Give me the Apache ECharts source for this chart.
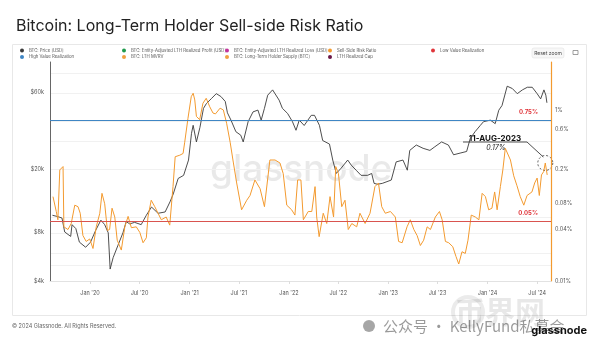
<!DOCTYPE html>
<html><head><meta charset="utf-8">
<script src="https://cdn.jsdelivr.net/npm/echarts@6/dist/echarts.min.js"></script>
<style>html,body{margin:0;padding:0;background:#fff;}#c{width:600px;height:346px;}</style>
</head><body><div id="c"></div>
<script>
const priceDates = ['2019-08-16','2019-09-05','2019-09-20','2019-09-30','2019-10-22','2019-10-27','2019-11-10','2019-11-23','2019-12-16','2020-01-03','2020-01-22','2020-02-10','2020-02-24','2020-03-08','2020-03-15','2020-03-26','2020-04-13','2020-05-01','2020-05-13','2020-05-26','2020-06-13','2020-07-07','2020-07-26','2020-08-14','2020-09-07','2020-10-03','2020-10-21','2020-11-02','2020-11-20','2020-12-10','2020-12-28','2021-01-08','2021-01-14','2021-01-26','2021-02-08','2021-02-21','2021-03-04','2021-03-22','2021-04-09','2021-04-26','2021-05-12','2021-05-20','2021-06-02','2021-06-20','2021-07-08','2021-07-17','2021-08-04','2021-08-22','2021-09-09','2021-09-21','2021-10-03','2021-10-15','2021-11-02','2021-11-08','2021-11-26','2021-12-08','2021-12-27','2022-01-14','2022-01-27','2022-02-08','2022-02-26','2022-03-24','2022-04-05','2022-04-23','2022-05-05','2022-05-30','2022-06-11','2022-06-24','2022-07-12','2022-08-05','2022-08-18','2022-09-05','2022-09-23','2022-10-17','2022-11-01','2022-11-10','2022-11-22','2022-12-10','2023-01-12','2023-01-30','2023-02-24','2023-03-12','2023-03-21','2023-04-14','2023-05-09','2023-06-03','2023-06-21','2023-07-16','2023-08-10','2023-08-29','2023-09-22','2023-10-16','2023-10-29','2023-11-16','2023-12-05','2023-12-17','2024-01-11','2024-01-29','2024-02-11','2024-02-23','2024-03-13','2024-04-01','2024-04-19','2024-05-08','2024-05-26','2024-06-13','2024-07-01','2024-07-14','2024-07-26','2024-08-02','2024-08-06'];
const priceValues = [10300,10100,9900,8100,7600,9000,8500,7000,6500,7000,8300,9600,9000,8000,4750,5600,6700,8000,9400,9100,9300,9000,10300,11600,10600,10800,12500,14000,17500,18300,22800,33500,37600,29600,36500,48000,51500,55200,59300,56900,53000,45000,40500,34300,32600,29600,39600,45600,46800,40500,48000,58000,62600,63300,54000,48000,44600,39600,35000,40500,37500,43400,43400,37600,30200,28700,22800,18800,20300,22800,21200,19700,18300,18300,18800,16300,16100,16300,17100,22200,22800,19700,26200,28300,27000,26200,27600,29600,28300,24600,25200,25800,31000,34300,37500,39600,40500,38500,46700,50000,66000,63800,59300,62600,65000,65000,59300,55000,62600,58000,52000];

const ratioDates = ['2019-08-18','2019-08-30','2019-09-05','2019-09-12','2019-09-24','2019-09-27','2019-10-12','2019-10-24','2019-11-06','2019-11-18','2019-11-26','2019-12-06','2019-12-18','2019-12-31','2020-01-12','2020-01-24','2020-02-06','2020-02-14','2020-02-24','2020-03-05','2020-03-13','2020-03-22','2020-04-01','2020-04-10','2020-04-25','2020-05-08','2020-05-20','2020-06-01','2020-06-19','2020-07-02','2020-07-14','2020-07-26','2020-08-01','2020-08-13','2020-08-26','2020-09-07','2020-09-19','2020-10-07','2020-10-20','2020-11-01','2020-11-09','2020-11-26','2020-12-08','2020-12-14','2020-12-26','2021-01-07','2021-01-14','2021-01-20','2021-01-26','2021-02-07','2021-02-19','2021-03-03','2021-03-16','2021-03-28','2021-04-06','2021-04-23','2021-05-05','2021-05-17','2021-05-30','2021-06-11','2021-06-23','2021-07-11','2021-07-30','2021-08-11','2021-08-29','2021-09-17','2021-10-03','2021-10-23','2021-11-11','2021-11-29','2021-12-11','2021-12-24','2022-01-11','2022-01-23','2022-02-02','2022-02-14','2022-02-23','2022-03-13','2022-03-26','2022-04-07','2022-04-13','2022-04-22','2022-05-07','2022-05-20','2022-06-01','2022-06-14','2022-06-22','2022-07-02','2022-07-14','2022-07-26','2022-08-07','2022-08-20','2022-09-07','2022-09-19','2022-10-08','2022-10-26','2022-11-13','2022-11-26','2022-12-08','2022-12-21','2023-01-09','2023-01-27','2023-02-08','2023-02-21','2023-03-11','2023-03-23','2023-04-05','2023-04-17','2023-04-29','2023-05-11','2023-05-24','2023-06-05','2023-06-23','2023-07-08','2023-07-18','2023-07-30','2023-08-11','2023-08-26','2023-09-07','2023-09-17','2023-09-29','2023-10-11','2023-10-21','2023-11-02','2023-11-17','2023-11-30','2023-12-12','2023-12-24','2024-01-05','2024-01-17','2024-01-27','2024-02-05','2024-02-17','2024-02-26','2024-03-06','2024-03-12','2024-03-25','2024-04-06','2024-04-18','2024-04-30','2024-05-13','2024-05-25','2024-06-12','2024-06-22','2024-07-01','2024-07-09','2024-07-17','2024-07-25','2024-07-31','2024-08-07'];
const ratioValues = [0.097,0.065,0.052,0.199,0.218,0.043,0.040,0.047,0.077,0.074,0.062,0.034,0.029,0.031,0.024,0.043,0.062,0.106,0.080,0.039,0.040,0.071,0.056,0.030,0.023,0.043,0.057,0.042,0.043,0.037,0.028,0.032,0.056,0.088,0.074,0.062,0.052,0.056,0.045,0.127,0.284,0.296,0.31,0.42,0.80,1.43,1.57,1.31,0.84,0.77,1.2,1.37,1.09,0.92,0.9,1.05,1.0,0.70,0.42,0.24,0.14,0.068,0.088,0.10,0.152,0.12,0.074,0.26,0.26,0.24,0.18,0.077,0.068,0.059,0.152,0.152,0.052,0.065,0.065,0.127,0.056,0.033,0.062,0.047,0.097,0.056,0.218,0.18,0.074,0.088,0.040,0.047,0.043,0.062,0.047,0.062,0.127,0.14,0.074,0.062,0.065,0.056,0.029,0.028,0.043,0.052,0.040,0.034,0.026,0.030,0.043,0.040,0.056,0.065,0.052,0.029,0.028,0.0252,0.0193,0.0158,0.022,0.021,0.030,0.059,0.056,0.052,0.106,0.097,0.068,0.071,0.11,0.068,0.127,0.199,0.356,0.36,0.26,0.17,0.13,0.097,0.077,0.10,0.11,0.14,0.16,0.10,0.174,0.19,0.24,0.174];

const priceTickLabels = [4000, 8000, 20000, 60000];
const priceGridValues = [4000, 5000, 6000, 8000, 10000, 20000, 30000, 40000, 60000, 80000];
const ratioTickLabels = [0.01, 0.04, 0.08, 0.2, 0.6, 1];
const xTickDates = ['2020-01-01','2020-07-01','2021-01-01','2021-07-01','2022-01-01','2022-07-01','2023-01-01','2023-07-01','2024-01-01','2024-07-01'];
const xRange = ['2019-08-07', '2024-08-21'];
const highValueLevel = 0.75;
const lowValueLevel = 0.05;
const annotationDate = '2024-07-31';
const annotationTitle = '11-AUG-2023';
const annotationValue = '0.17%';

const ORANGE = '#f39a2f';
const FONT = 'Inter, Roboto, sans-serif';
const chart = echarts.init(document.getElementById('c'));

const ts = d => Date.parse(d + 'T00:00:00Z');
function zip(d, v) { return d.map((x, i) => [ts(x), v[i]]); }
const legendText = { fontSize: 4.3, color: '#555', fontFamily: FONT, lineHeight: 5 };
function legendCol(left, names) {
  return { left: left, top: 48, orient: 'vertical', itemWidth: 4, itemHeight: 4, itemGap: 1.5,
    icon: 'circle', padding: 0, textStyle: legendText, data: names, selectedMode: false };
}
const MONTHS = ['Jan','Feb','Mar','Apr','May','Jun','Jul','Aug','Sep','Oct','Nov','Dec'];

chart.setOption({
  animation: false,
  textStyle: { fontFamily: FONT },
  title: { text: 'Bitcoin: Long-Term Holder Sell-side Risk Ratio', left: 11, top: 13,
    textStyle: { fontSize: 16, fontWeight: 'normal', color: '#222', fontFamily: FONT } },
  legend: [
    legendCol(20, ['BTC: Price [USD]', 'High Value Realization']),
    legendCol(122, ['BTC: Entity-Adjusted LTH Realized Profit [USD]', 'BTC: LTH MVRV']),
    legendCol(225, ['BTC: Entity-Adjusted LTH Realized Loss [USD]', 'BTC: Long-Term Holder Supply [BTC]']),
    legendCol(328, ['Sell-Side Risk Ratio', 'LTH Realized Cap']),
    legendCol(431, ['Low Value Realization'])
  ],
  grid: { left: 50, right: 49, top: 62, bottom: 65 },
  xAxis: {
    type: 'value', min: ts(xRange[0]), max: ts(xRange[1]),
    axisLine: { lineStyle: { color: '#e2e2e2' } },
    axisTick: { show: true, length: 3, customValues: xTickDates.map(ts), lineStyle: { color: '#ddd' } },
    splitLine: { show: false },
    axisLabel: { customValues: xTickDates.map(ts), fontSize: 5.5, color: '#555', margin: 9,
      formatter: function (v) { const d = new Date(v); return MONTHS[d.getUTCMonth()] + " '" + String(d.getUTCFullYear()).slice(2); } }
  },
  yAxis: [
    { type: 'log', logBase: 10, min: 4000, max: 93500,
      axisLine: { show: true, lineStyle: { color: '#666', width: 1 } },
      axisTick: { show: false, customValues: priceGridValues },
      splitLine: { show: true, lineStyle: { color: '#f1f1f1', width: 1 } },
      axisLabel: { customValues: priceTickLabels, fontSize: 5.5, color: '#555', margin: 6,
        formatter: function (v) { return '$' + Math.round(v / 1000) + 'k'; } } },
    { type: 'log', logBase: 10, min: 0.01, max: 3.64, position: 'right',
      axisLine: { show: true, lineStyle: { color: ORANGE, width: 1.2 } },
      axisTick: { show: false },
      splitLine: { show: false },
      axisLabel: { customValues: ratioTickLabels, fontSize: 5.5, color: '#555', margin: 4,
        formatter: function (v) { return (+(+v).toPrecision(3)) + '%'; } } }
  ],
  series: [
    { name: 'BTC: Price [USD]', type: 'line', yAxisIndex: 0, data: zip(priceDates, priceValues),
      showSymbol: false, color: '#3a3a3a', lineStyle: { width: 0.9, color: '#3a3a3a' }, z: 3 },
    { name: 'High Value Realization', type: 'line', yAxisIndex: 1, data: [], color: '#3f86c4',
      markLine: { silent: true, symbol: 'none', lineStyle: { color: '#3f86c4', width: 1, type: 'solid' },
        label: { show: true, position: 'insideEndTop', formatter: highValueLevel + '%', color: '#e0353a',
          fontSize: 6, fontWeight: 'bold', padding: [0, 8, 0, 0] },
        data: [{ yAxis: highValueLevel }] } },
    { name: 'BTC: Entity-Adjusted LTH Realized Profit [USD]', type: 'line', data: [], color: '#1f9a4c' },
    { name: 'BTC: LTH MVRV', type: 'line', data: [], color: '#f0a040' },
    { name: 'BTC: Entity-Adjusted LTH Realized Loss [USD]', type: 'line', data: [], color: '#c4339d' },
    { name: 'BTC: Long-Term Holder Supply [BTC]', type: 'line', data: [], color: '#f0a040' },
    { name: 'Sell-Side Risk Ratio', type: 'line', yAxisIndex: 1, data: zip(ratioDates, ratioValues),
      showSymbol: false, color: ORANGE, lineStyle: { width: 1, color: ORANGE }, z: 4 },
    { name: 'LTH Realized Cap', type: 'line', data: [], color: '#6b1747' },
    { name: 'Low Value Realization', type: 'line', yAxisIndex: 1, data: [], color: '#e0353a',
      markLine: { silent: true, symbol: 'none', lineStyle: { color: '#d9534f', width: 1, type: 'solid' },
        label: { show: true, position: 'insideEndTop', formatter: lowValueLevel + '%', color: '#e0353a',
          fontSize: 6, fontWeight: 'bold', padding: [0, 8, 0, 0] },
        data: [{ yAxis: lowValueLevel }] } }
  ]
});

const annIdx = ratioDates.indexOf(annotationDate);
const pt = chart.convertToPixel({ xAxisIndex: 0, yAxisIndex: 1 }, [ts(annotationDate), ratioValues[annIdx]]);

chart.setOption({
  graphic: [
    { type: 'rect', z: -10, silent: true, shape: { x: 12.5, y: 44.5, width: 574, height: 271 },
      style: { fill: 'none', stroke: '#e8e8e8', lineWidth: 1 } },
    { type: 'text', z: -5, silent: true, x: 210, y: 170,
      style: { text: 'glassnode', fontSize: 37, fontWeight: 500, fill: 'rgba(0,0,0,0.085)', verticalAlign: 'middle', fontFamily: FONT } },
    { type: 'rect', silent: true, shape: { x: 532, y: 48, width: 32, height: 10, r: 2 },
      style: { fill: '#f7f7f7', stroke: '#e3e3e3', lineWidth: 0.6 } },
    { type: 'text', silent: true, x: 548, y: 53,
      style: { text: 'Reset zoom', fontSize: 5, fill: '#444', align: 'center', verticalAlign: 'middle', fontFamily: FONT } },
    { type: 'rect', silent: true, shape: { x: 573, y: 50.5, width: 5, height: 4 },
      style: { fill: 'none', stroke: '#777', lineWidth: 0.7 } },
    { type: 'polyline', silent: true, shape: { points: [[463, 142], [527, 142], [pt[0] - 2, pt[1] - 6]] },
      style: { stroke: '#222', lineWidth: 0.8, fill: 'none' } },
    { type: 'circle', silent: true, shape: { cx: pt[0], cy: pt[1], r: 7.5 },
      style: { fill: 'none', stroke: '#333', lineWidth: 0.8, lineDash: [2, 2] } },
    { type: 'text', silent: true, x: 495, y: 138.5,
      style: { text: annotationTitle, fontSize: 8, fontWeight: 'bold', fill: '#111', align: 'center', verticalAlign: 'middle', fontFamily: FONT } },
    { type: 'text', silent: true, x: 496, y: 147.5,
      style: { text: annotationValue, fontSize: 7, fontStyle: 'italic', fill: '#222', align: 'center', verticalAlign: 'middle', fontFamily: FONT } },
    { type: 'text', silent: true, x: 12, y: 326,
      style: { text: '© 2024 Glassnode. All Rights Reserved.', fontSize: 5.5, fill: '#666', verticalAlign: 'middle', fontFamily: FONT } },
    { type: 'text', silent: true, x: 455, y: 312,
      style: { text: '币界网', fontSize: 30, fontWeight: 'bold', fill: 'rgba(0,0,0,0.09)', verticalAlign: 'middle', fontFamily: 'Noto Sans CJK SC' } },
    { type: 'circle', silent: true, shape: { cx: 468, cy: 312, r: 15 },
      style: { fill: 'none', stroke: 'rgba(0,0,0,0.08)', lineWidth: 4 } },
    { type: 'circle', silent: true, shape: { cx: 369, cy: 326, r: 6 },
      style: { fill: 'rgba(0,0,0,0.35)' } },
    { type: 'text', silent: true, x: 383, y: 326,
      style: { text: '公众号 · KellyFund私募会', fontSize: 15, fill: 'rgba(0,0,0,0.4)', verticalAlign: 'middle', fontFamily: 'Noto Sans CJK SC' } },
    { type: 'text', silent: true, x: 587, y: 331,
      style: { text: 'glassnode', fontSize: 11, fontWeight: 'bold', fill: '#111', align: 'right', verticalAlign: 'middle', fontFamily: FONT } }
  ]
});
</script></body></html>
